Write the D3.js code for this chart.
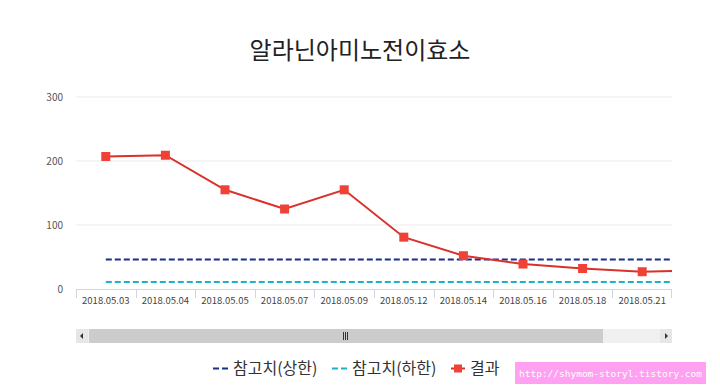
<!DOCTYPE html>
<html>
<head>
<meta charset="utf-8">
<script src="https://cdn.jsdelivr.net/npm/d3@7"></script>
<style>
  body { margin: 0; background: #fff; }
  text { font-family: "Noto Sans CJK KR", "Noto Sans", sans-serif; }
</style>
</head>
<body>
<svg id="chart" width="720" height="389"></svg>
<script>
// Data
const dates = ["2018.05.03", "2018.05.04", "2018.05.05", "2018.05.07", "2018.05.09",
  "2018.05.12", "2018.05.14", "2018.05.16", "2018.05.18", "2018.05.21", "2018.05.23"];
const results = [207, 209, 155, 125, 155, 81, 52, 39, 32, 27, 29];
const refUpper = [46, 46, 46, 46, 46, 46, 46, 46, 46, 46, 46];
const refLower = [11, 11, 11, 11, 11, 11, 11, 11, 11, 11, 11];
const yTicks = [0, 100, 200, 300];
const legendLabels = ["참고치(상한)", "참고치(하한)", "결과"];
const visibleCount = 10;

const svg = d3.select("#chart");
const plot = { left: 76, right: 672, top: 97, bottom: 289 };
const band = (plot.right - plot.left) / visibleCount;

// x scale: only the first 10 dates fit, the rest scroll off to the right
const x = d3.scaleBand()
  .domain(dates)
  .range([plot.left, plot.left + band * dates.length]);

const y = d3.scaleLinear()
  .domain([0, 300])
  .range([plot.bottom, plot.top]);

// Title
svg.append("text")
  .attr("x", 360)
  .attr("y", 59)
  .attr("text-anchor", "middle")
  .attr("font-size", 24)
  .attr("fill", "#222")
  .text("알라닌아미노전이효소");

// Grid lines
svg.append("g")
  .selectAll("line")
  .data(yTicks.filter(d => d > 0))
  .join("line")
  .attr("x1", plot.left)
  .attr("x2", plot.right)
  .attr("y1", d => y(d))
  .attr("y2", d => y(d))
  .attr("stroke", "#ebebeb");

// Y labels
svg.append("g")
  .selectAll("text")
  .data(yTicks)
  .join("text")
  .attr("x", 63)
  .attr("y", d => y(d) + 4)
  .attr("text-anchor", "end")
  .attr("font-size", 10)
  .attr("fill", "#555")
  .text(d => d);

// clip the plot to the visible window
svg.append("clipPath")
  .attr("id", "plotClip")
  .append("rect")
  .attr("x", plot.left)
  .attr("y", 0)
  .attr("width", plot.right - plot.left)
  .attr("height", 389);

// X axis
const xAxis = svg.append("g").attr("clip-path", "url(#plotClip)");
xAxis.append("line")
  .attr("x1", plot.left)
  .attr("x2", plot.right)
  .attr("y1", plot.bottom + 0.5)
  .attr("y2", plot.bottom + 0.5)
  .attr("stroke", "#d0d5df");
xAxis.selectAll(".tick")
  .data(dates.slice(0, visibleCount + 1))
  .join("line")
  .attr("class", "tick")
  .attr("x1", d => Math.min(Math.round(x(d)) + 0.5, plot.right - 0.5))
  .attr("x2", d => Math.min(Math.round(x(d)) + 0.5, plot.right - 0.5))
  .attr("y1", plot.bottom)
  .attr("y2", plot.bottom + 9)
  .attr("stroke", "#d0d5df");
xAxis.selectAll(".xlab")
  .data(dates.slice(0, visibleCount))
  .join("text")
  .attr("class", "xlab")
  .attr("x", d => x(d) + x.bandwidth() / 2)
  .attr("y", 304)
  .attr("text-anchor", "middle")
  .attr("font-size", 9.5)
  .attr("fill", "#444")
  .text(d => d);

const cx = d => x(d) + x.bandwidth() / 2;
const lineGen = d3.line()
  .x((d, i) => cx(dates[i]))
  .y(d => y(d));

const g = svg.append("g").attr("clip-path", "url(#plotClip)");

g.append("path")
  .datum(refUpper)
  .attr("d", lineGen)
  .attr("fill", "none")
  .attr("stroke", "#1a2f8a")
  .attr("stroke-width", 2)
  .attr("stroke-dasharray", "6,3");

g.append("path")
  .datum(refLower)
  .attr("d", lineGen)
  .attr("fill", "none")
  .attr("stroke", "#1eb0cf")
  .attr("stroke-width", 2)
  .attr("stroke-dasharray", "6,3");

g.append("path")
  .datum(results)
  .attr("d", lineGen)
  .attr("fill", "none")
  .attr("stroke", "#d9312b")
  .attr("stroke-width", 2);

g.selectAll(".marker")
  .data(results)
  .join("rect")
  .attr("class", "marker")
  .attr("x", (d, i) => cx(dates[i]) - 4.5)
  .attr("y", d => y(d) - 4.5)
  .attr("width", 9)
  .attr("height", 9)
  .attr("fill", "#ef4136");

// Scrollbar
const sb = svg.append("g");
sb.append("rect")
  .attr("x", plot.left).attr("y", 329)
  .attr("width", plot.right - plot.left).attr("height", 14)
  .attr("fill", "#f0f0f0");
sb.append("rect")
  .attr("x", 89).attr("y", 329)
  .attr("width", 603 - 89).attr("height", 14)
  .attr("fill", "#cccccc");
sb.append("rect")
  .attr("x", plot.left).attr("y", 329)
  .attr("width", 12).attr("height", 14)
  .attr("fill", "#e6e6e6");
sb.append("rect")
  .attr("x", plot.right - 12).attr("y", 329)
  .attr("width", 12).attr("height", 14)
  .attr("fill", "#e6e6e6");
sb.append("path")
  .attr("d", `M${plot.left + 7},333 L${plot.left + 4},336 L${plot.left + 7},339 Z`)
  .attr("fill", "#333");
sb.append("path")
  .attr("d", `M${plot.right - 7},333 L${plot.right - 4},336 L${plot.right - 7},339 Z`)
  .attr("fill", "#333");
[-2, 0, 2].forEach(o => {
  sb.append("line")
    .attr("x1", 345.5 + o).attr("x2", 345.5 + o)
    .attr("y1", 332).attr("y2", 340)
    .attr("stroke", "#333");
});

// Legend
const legend = svg.append("g");
const legendItems = [
  { label: legendLabels[0], x: 213, color: "#1a2f8a", type: "dash" },
  { label: legendLabels[1], x: 332, color: "#1eb0cf", type: "dash" },
  { label: legendLabels[2], x: 451, color: "#ef4136", type: "marker" }
];
legendItems.forEach(it => {
  if (it.type === "dash") {
    legend.append("line")
      .attr("x1", it.x).attr("x2", it.x + 15)
      .attr("y1", 368.5).attr("y2", 368.5)
      .attr("stroke", it.color).attr("stroke-width", 2)
      .attr("stroke-dasharray", "6,3");
  } else {
    legend.append("line")
      .attr("x1", it.x).attr("x2", it.x + 14)
      .attr("y1", 368.5).attr("y2", 368.5)
      .attr("stroke", "#d9312b").attr("stroke-width", 2);
    legend.append("rect")
      .attr("x", it.x + 3).attr("y", 364.5)
      .attr("width", 8).attr("height", 8)
      .attr("fill", it.color);
  }
  legend.append("text")
    .attr("x", it.type === "dash" ? it.x + 20 : it.x + 19)
    .attr("y", 374)
    .attr("font-size", 16)
    .attr("fill", "#333")
    .text(it.label);
});

// Blog watermark on the picture
svg.append("rect")
  .attr("x", 515).attr("y", 362)
  .attr("width", 191).attr("height", 22)
  .attr("fill", "#ffa0f2");
svg.append("text")
  .attr("x", 610.5).attr("y", 376.5)
  .attr("text-anchor", "middle")
  .attr("font-size", 9.5)
  .attr("fill", "#fff")
  .style("font-family", "'DejaVu Sans Mono', monospace")
  .text("http://shymom-storyl.tistory.com");
</script>
</body>
</html>
